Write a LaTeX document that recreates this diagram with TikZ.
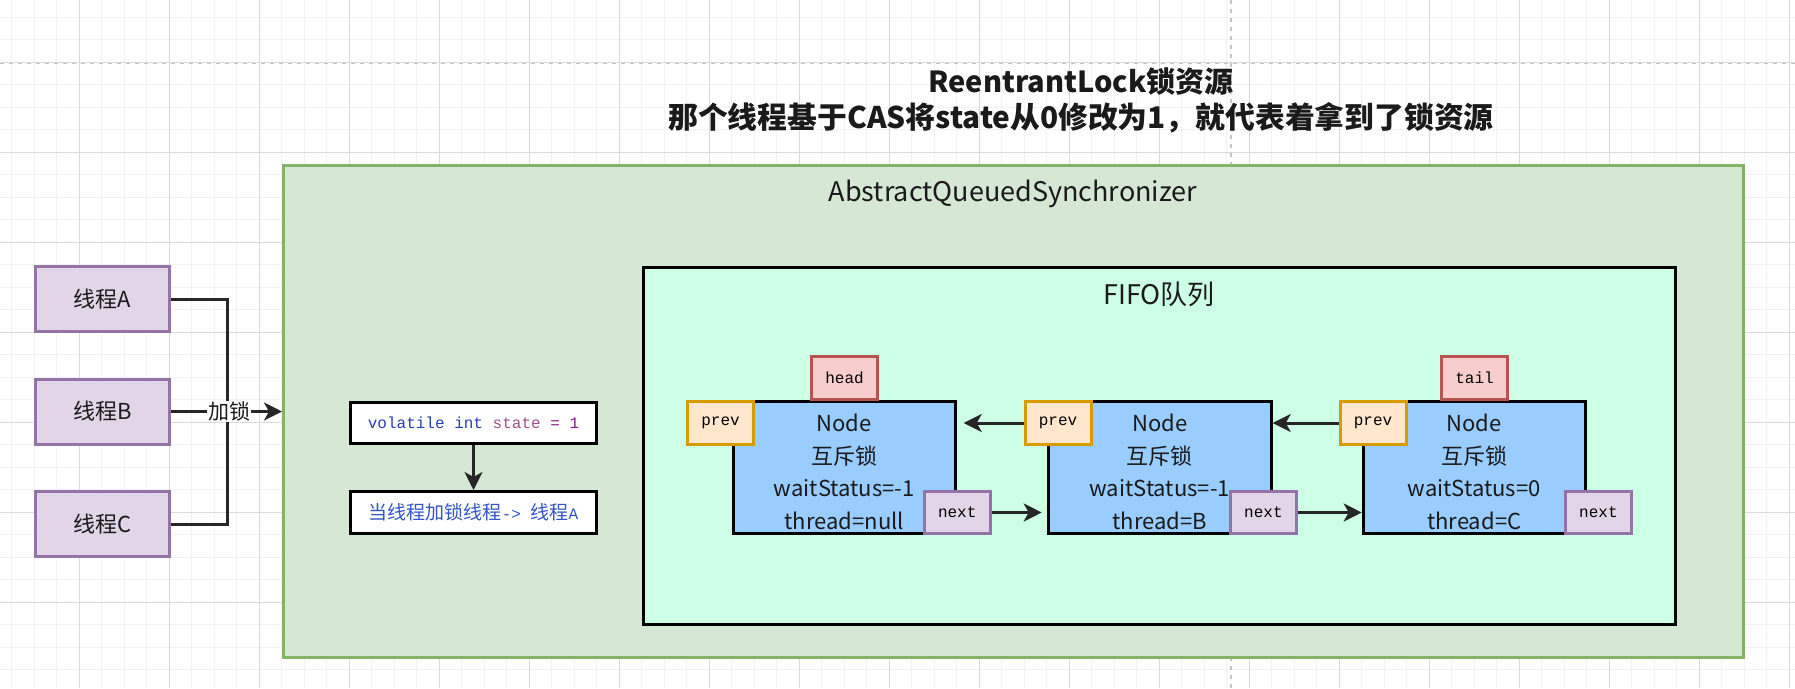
\documentclass[tikz,border=0pt]{standalone}
\usepackage{fontspec}
\setmainfont{Noto Sans CJK SC}
\newfontfamily\monof{Liberation Mono}
\newfontfamily\cjkf{Noto Sans CJK SC}
\usetikzlibrary{arrows.meta,calc}
\definecolor{txt}{HTML}{1A1A1A}
\definecolor{thrS}{HTML}{9673A6}
\definecolor{thrF}{HTML}{E1D5E7}
\definecolor{aqsS}{HTML}{82B366}
\definecolor{aqsF}{HTML}{D5E8D4}
\definecolor{fifoF}{HTML}{CCFFE6}
\definecolor{nodeF}{HTML}{99CCFF}
\definecolor{prevS}{HTML}{D79B00}
\definecolor{prevF}{HTML}{FFE6CC}
\definecolor{headS}{HTML}{B85450}
\definecolor{headF}{HTML}{F8CECC}
\definecolor{lineC}{HTML}{262626}
\definecolor{gridMin}{HTML}{F2F2F2}
\definecolor{gridMaj}{HTML}{DADADA}
\definecolor{pageC}{HTML}{C4C4C4}
\definecolor{cBlue}{HTML}{2B3FB0}
\definecolor{cPink}{HTML}{A0508C}
\definecolor{cPurp}{HTML}{8C1E8C}
\definecolor{cText}{HTML}{3355C8}
\begin{document}
\begin{tikzpicture}[x=1pt,y=-1pt,
  gridminor/.style={draw=gridMin, line width=1pt},
  gridmajor/.style={draw=gridMaj, line width=1.2pt},
  pagebreak/.style={draw=pageC, line width=1.5pt, dash pattern=on 4pt off 5pt},
  thr/.style={draw=thrS, fill=thrF, line width=3pt, minimum width=134pt, minimum height=65pt, inner sep=0pt, font=\fontsize{22}{26}\selectfont, text=txt},
  codebox/.style={draw=black, fill=white, line width=3pt, minimum width=246pt, minimum height=41pt, inner sep=0pt},
  qnode/.style={draw=black, fill=nodeF, line width=3pt, minimum height=132pt, inner sep=0pt},
  ptr/.style={line width=3pt, minimum width=66pt, minimum height=43pt, inner sep=0pt, font=\monof\fontsize{16}{16}\selectfont, text=black},
  prevbox/.style={ptr, draw=prevS, fill=prevF},
  headbox/.style={ptr, draw=headS, fill=headF},
  nextbox/.style={ptr, draw=thrS, fill=thrF, minimum height=42pt},
  conn/.style={draw=lineC, line width=3pt},
  arr/.style={conn, -{Stealth[length=18pt,width=18pt,inset=5pt]}},
  ntext/.style={align=center, font=\fontsize{22}{32.7}\selectfont, text=txt, inner sep=0pt},
]
\useasboundingbox (0,0) rectangle (1795,688);
\fill[white] (0,0) rectangle (1795,688);
% grid
\foreach \i in {0,...,80} \draw[gridminor] ({11.8+22.5*\i},0) -- ({11.8+22.5*\i},688);
\foreach \i in {0,...,30} \draw[gridminor] (0,{17.3+22.5*\i}) -- (1795,{17.3+22.5*\i});
\foreach \i in {0,...,20} \draw[gridmajor] ({-10.7+90*\i},0) -- ({-10.7+90*\i},688);
\foreach \i in {0,...,8} \draw[gridmajor] (0,{-27.7+90*\i}) -- (1795,{-27.7+90*\i});
\draw[pagebreak] (0,63.3) -- (1795,63.3);
\draw[pagebreak] (1231,0) -- (1231,688);

% title
\node[font=\bfseries\fontsize{29}{36}\selectfont, align=center, text=txt] (title) at (1081,100)
  {ReentrantLock锁资源\\{\fontsize{29.8}{36}\selectfont 那个线程基于CAS将state从0修改为1，就代表着拿到了锁资源}};

% AQS container
\node[draw=aqsS, fill=aqsF, line width=3pt, minimum width=1460pt, minimum height=492pt, inner sep=0pt] (aqs) at (1013.5,411.5) {};
\node[font=\fontsize{27}{30}\selectfont, text=txt] (aqslabel) at (1013,194) {AbstractQueuedSynchronizer};

% threads
\node[thr] (tA) at (102.3,299) {线程A};
\node[thr] (tB) at (102.3,411.5) {线程B};
\node[thr] (tC) at (102.3,524) {线程C};
\coordinate (j) at (227,411.5);
\draw[conn] (tA.east) -| (j);
\draw[conn] (tC.east) -| (j);
\draw[arr] (tB.east) -- node[pos=0.524, fill=white, inner sep=1pt, font=\fontsize{21}{24}\selectfont, text=txt] (lock) {加锁} (tB.east -| aqs.west);

% state boxes
\node[codebox] (vol) at (473.5,423) {\monof\fontsize{16}{16}\selectfont\color{cBlue}volatile int \color{cPink}state \color{cPurp}= 1};
\node[codebox, minimum height=42pt] (cur) at (473.5,512.5) {\fontsize{19}{19}\selectfont\color{cText}{\cjkf 当线程加锁线程}{\monof\fontsize{16}{16}\selectfont -> }{\cjkf 线程}{\monof\fontsize{16}{16}\selectfont A}};
\draw[arr] (vol.south) -- (cur.north);

% FIFO
\node[draw=black, fill=fifoF, line width=3pt, minimum width=1032pt, minimum height=357pt, inner sep=0pt] (fifo) at (1159.5,445.6) {};
\node[font=\fontsize{27}{30}\selectfont, text=txt] (fifolabel) at (1159,294) {FIFO队列};

% queue nodes
\node[qnode, minimum width=222pt] (n1) at (844.2,467.5) {};
\node[qnode, minimum width=223pt] (n2) at (1159.7,467.5) {};
\node[qnode, minimum width=222pt] (n3) at (1474.2,467.5) {};
\node[ntext] (t1) at (844.2,472) {Node\\互斥锁\\waitStatus=-1\\thread=null};
\node[ntext] (t2) at (1159.7,472) {Node\\互斥锁\\waitStatus=-1\\thread=B};
\node[ntext] (t3) at (1474.2,472) {Node\\互斥锁\\waitStatus=0\\thread=C};

\node[headbox] (head) at (844.5,378) {head};
\node[headbox] (tail) at (1474.5,378) {tail};
\node[prevbox] (p1) at (720.5,423) {prev};
\node[prevbox] (p2) at (1058,423) {prev};
\node[prevbox] (p3) at (1373,423) {prev};
\node[nextbox] (x1) at (957.2,512.5) {next};
\node[nextbox] (x2) at (1263.4,512.5) {next};
\node[nextbox] (x3) at (1598.4,512.5) {next};

\draw[arr, shorten >=7pt] (p2.west) -- (p2.west -| n1.east);
\draw[arr, shorten >=0pt] (p3.west) -- (p3.west -| n2.east);
\draw[arr, shorten >=5pt] (x1.east) -- (x1.east -| n2.west);
\draw[arr] (x2.east) -- (x2.east -| n3.west);
\end{tikzpicture}
\end{document}
